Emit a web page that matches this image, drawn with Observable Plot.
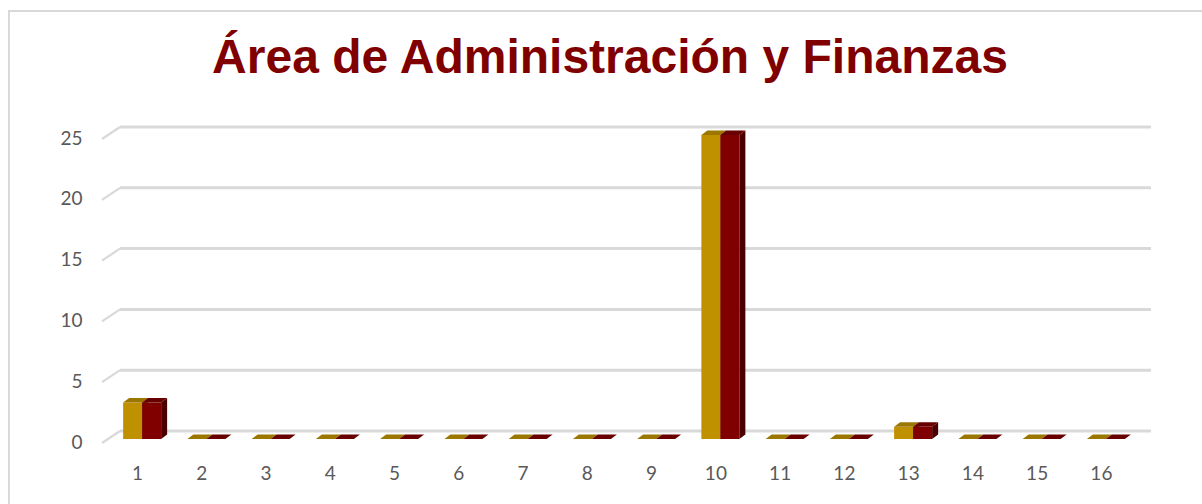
<!DOCTYPE html>
<html>
<head>
<meta charset="utf-8">
<script src="https://cdn.jsdelivr.net/npm/d3@7"></script>
<script src="https://cdn.jsdelivr.net/npm/@observablehq/plot@0.6"></script>
<style>
  html, body { margin: 0; padding: 0; background: #fff; overflow: hidden; }
  #page { position: relative; width: 1202px; height: 504px; overflow: hidden; }
  #frame { position: absolute; left: 8px; top: 10px; width: 1300px; height: 600px; border: 2px solid #d9d9d9; box-sizing: border-box; }
  #title { position: absolute; left: 18px; top: 0; width: 1184px; height: 90px; text-align: center;
           font-family: "Liberation Sans", Arial, sans-serif; font-weight: bold; font-size: 48px; color: #800000; line-height: 1; padding-top: 33px; box-sizing: border-box; }
  #chart { position: absolute; left: 0; top: 90px; }
</style>
</head>
<body>
<div id="page">
  <div id="frame"></div>
  <div id="title">Área de Administración y Finanzas</div>
  <div id="chart"></div>
</div>
<script>
const categories = [1,2,3,4,5,6,7,8,9,10,11,12,13,14,15,16];
const seriesA = [3,0,0,0,0,0,0,0,0,25,0,0,1,0,0,0];   // gold
const seriesB = [3,0,0,0,0,0,0,0,0,25,0,0,1,0,0,0];   // dark red
const yTicks = [0,5,10,15,20,25];

const gridColor = "#d9d9d9";
const textColor = "#595959";
const gold = {front: "#BF9000", top: "#9C7700", side: "#7F6000"};
const red  = {front: "#800000", top: "#680000", side: "#4A0000"};

const rows = categories.map((c, i) => ({c, a: seriesA[i], b: seriesB[i]}));

// 3D geometry (pixels)
const DEPTH_X = 18, DEPTH_Y = -12;   // floor depth
const BAR_DX = 6, BAR_DY = -4.5;     // bar depth

function gridMark(index, scales) {
  const {x, y} = scales;
  const g = d3.create("svg:g");
  const xl = x(0.5) - 3, xr = x(16.5);
  for (const t of yTicks) {
    const yf = y(t) + 4;
    g.append("line").attr("x1", xl).attr("y1", yf).attr("x2", xl + DEPTH_X).attr("y2", yf + DEPTH_Y)
      .attr("stroke", gridColor).attr("stroke-width", 2.2);
    g.append("line").attr("x1", xl + DEPTH_X).attr("y1", yf + DEPTH_Y).attr("x2", xr + DEPTH_X).attr("y2", yf + DEPTH_Y)
      .attr("stroke", gridColor).attr("stroke-width", 3);
  }
  return g.node();
}

function barsMark(index, scales) {
  const {x, y} = scales;
  const g = d3.create("svg:g");
  const pts = p => p.map(d => d.join(",")).join(" ");
  for (const r of rows) {
    const cx = x(r.c);
    const y0 = y(0);
    const segs = [
      {x1: cx - 14, x2: cx + 5, v: r.a, col: gold},
      {x1: cx + 5, x2: cx + 24, v: r.b, col: red}
    ];
    for (const s of segs) {
      const yt = y(s.v);
      if (s.v > 0) {
        g.append("polygon").attr("points", pts([[s.x2, yt],[s.x2 + BAR_DX, yt + BAR_DY],[s.x2 + BAR_DX, y0 + BAR_DY],[s.x2, y0]]))
          .attr("fill", s.col.side);
        g.append("polygon").attr("points", pts([[s.x1, yt],[s.x2, yt],[s.x2, y0],[s.x1, y0]]))
          .attr("fill", s.col.front);
      }
      g.append("polygon").attr("points", pts([[s.x1, yt],[s.x2, yt],[s.x2 + BAR_DX, yt + BAR_DY],[s.x1 + BAR_DX, yt + BAR_DY]]))
        .attr("fill", s.col.top);
    }
  }
  return g.node();
}

const chart = Plot.plot({
  width: 1202,
  height: 414,
  marginLeft: 105,
  marginRight: 69,
  marginTop: 45,
  marginBottom: 65,
  x: {type: "linear", domain: [0.5, 16.5], axis: null},
  y: {type: "linear", domain: [0, 25], axis: null},
  style: {background: "transparent", fontFamily: "Lato, 'Open Sans', sans-serif"},
  marks: [
    gridMark,
    barsMark,
    Plot.text(yTicks, {x: () => 0.5, y: d => d, text: d => String(d), textAnchor: "end", dx: -23, dy: 3,
      fill: textColor, fontSize: 19}),
    Plot.text(categories, {x: d => d, y: () => 0, text: d => String(d), dy: 34, fill: textColor, fontSize: 19})
  ]
});
document.getElementById("chart").appendChild(chart);
</script>
</body>
</html>
